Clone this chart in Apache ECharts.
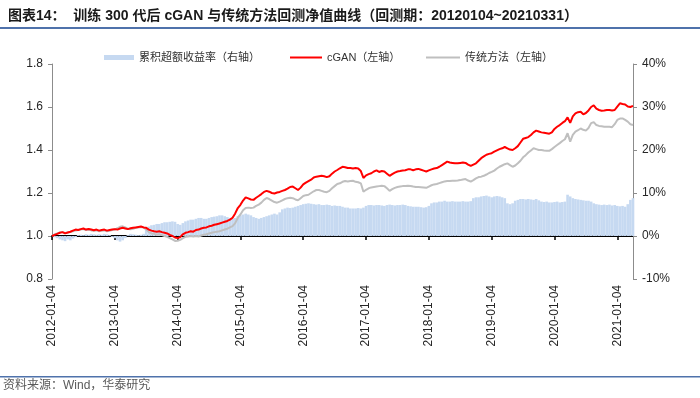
<!DOCTYPE html>
<html><head><meta charset="utf-8">
<script src="https://cdn.jsdelivr.net/npm/echarts@6/dist/echarts.min.js"></script>
<style>html,body{margin:0;padding:0;background:#fff}#c{width:700px;height:398px}</style>
</head><body><div id="c"></div>
<script>
// sample dates (twice a month), 2012-01-04 .. 2021-03-31
const years = [2012,2013,2014,2015,2016,2017,2018,2019,2020];
const monthDays = ['04','18'];
const dates = [];
for (const y of years) {
  for (let m = 1; m <= 12; m++) {
    for (const d of monthDays) dates.push(y + '-' + String(m).padStart(2,'0') + '-' + d);
  }
}
const lastDates = ['2021-01-04','2021-01-18','2021-02-04','2021-02-18','2021-03-04','2021-03-18','2021-03-31'];
dates.push(...lastDates);

const cgan = [
1.000,1.005,1.010,1.015,1.018,1.012,1.016,1.020,1.025,1.030,
1.028,1.032,1.035,1.030,1.033,1.030,1.027,1.030,1.025,1.028,
1.030,1.025,1.028,1.030,1.032,1.030,1.035,1.038,1.035,1.032,
1.036,1.038,1.040,1.042,1.044,1.040,1.038,1.030,1.025,1.022,
1.020,1.022,1.018,1.015,1.012,1.005,1.000,0.993,0.990,0.995,
1.008,1.015,1.018,1.022,1.020,1.028,1.030,1.035,1.038,1.040,
1.045,1.048,1.052,1.055,1.058,1.062,1.066,1.070,1.076,1.085,
1.105,1.130,1.145,1.165,1.180,1.175,1.170,1.168,1.178,1.186,
1.195,1.205,1.210,1.206,1.200,1.198,1.202,1.205,1.210,1.214,
1.220,1.228,1.230,1.222,1.214,1.225,1.240,1.248,1.255,1.262,
1.272,1.276,1.278,1.280,1.278,1.274,1.278,1.290,1.300,1.307,
1.315,1.322,1.320,1.316,1.316,1.314,1.316,1.314,1.302,1.270,
1.282,1.288,1.292,1.300,1.305,1.298,1.302,1.300,1.290,1.280,
1.288,1.295,1.300,1.302,1.305,1.306,1.310,1.310,1.306,1.310,
1.312,1.308,1.304,1.300,1.305,1.310,1.314,1.316,1.322,1.330,
1.338,1.346,1.342,1.340,1.338,1.338,1.340,1.342,1.340,1.332,
1.326,1.332,1.338,1.350,1.362,1.370,1.378,1.382,1.385,1.392,
1.398,1.404,1.408,1.414,1.408,1.402,1.400,1.408,1.418,1.435,
1.452,1.456,1.460,1.470,1.482,1.490,1.486,1.482,1.480,1.478,
1.476,1.482,1.498,1.508,1.516,1.526,1.534,1.552,1.526,1.556,
1.570,1.576,1.578,1.566,1.572,1.584,1.600,1.608,1.592,1.586,
1.583,1.584,1.586,1.586,1.584,1.586,1.602,1.617,1.614,1.612,
1.602,1.600,1.605
];

const trad = [
1.000,1.008,1.012,1.016,1.018,1.014,1.016,1.018,1.022,1.026,
1.028,1.030,1.032,1.028,1.030,1.026,1.024,1.026,1.022,1.024,
1.026,1.022,1.024,1.028,1.030,1.036,1.043,1.045,1.040,1.034,
1.031,1.034,1.038,1.040,1.042,1.040,1.030,1.018,1.012,1.010,
1.006,1.008,1.004,1.000,0.996,0.990,0.984,0.977,0.978,0.982,
0.990,0.996,0.998,1.000,0.998,1.000,0.998,1.002,1.006,1.008,
1.012,1.015,1.018,1.020,1.022,1.026,1.030,1.034,1.040,1.046,
1.060,1.085,1.100,1.120,1.130,1.132,1.130,1.132,1.140,1.146,
1.155,1.168,1.177,1.172,1.165,1.158,1.155,1.160,1.166,1.172,
1.176,1.178,1.176,1.170,1.166,1.176,1.186,1.190,1.192,1.200,
1.208,1.214,1.214,1.210,1.206,1.204,1.210,1.222,1.232,1.242,
1.245,1.252,1.256,1.254,1.256,1.257,1.252,1.250,1.245,1.206,
1.215,1.222,1.226,1.228,1.230,1.232,1.234,1.232,1.222,1.210,
1.218,1.224,1.228,1.230,1.232,1.233,1.234,1.233,1.230,1.228,
1.228,1.227,1.226,1.224,1.230,1.236,1.240,1.242,1.246,1.250,
1.254,1.256,1.256,1.257,1.257,1.258,1.260,1.263,1.265,1.258,
1.253,1.260,1.268,1.274,1.276,1.280,1.286,1.293,1.298,1.304,
1.314,1.322,1.328,1.334,1.338,1.330,1.322,1.328,1.338,1.350,
1.366,1.376,1.388,1.398,1.408,1.404,1.400,1.400,1.398,1.397,
1.396,1.404,1.414,1.423,1.432,1.442,1.450,1.478,1.439,1.470,
1.485,1.492,1.500,1.494,1.490,1.502,1.525,1.530,1.516,1.512,
1.510,1.508,1.508,1.508,1.506,1.520,1.540,1.546,1.547,1.540,
1.532,1.520,1.516
];

const excess = [
0.0,-0.3,-0.5,-0.8,-1.0,-1.2,-0.8,-1.0,-0.6,-0.3,
0.2,0.3,0.2,0.4,0.3,0.5,0.4,0.3,0.4,0.3,
0.5,0.4,0.2,-0.2,-0.5,-1.0,-1.3,-1.0,-0.5,0.2,
0.5,0.4,0.3,0.2,0.3,0.5,1.5,2.2,2.5,2.6,
2.8,2.8,3.0,3.2,3.2,3.3,3.4,3.3,2.8,2.6,
3.0,3.4,3.6,3.8,3.8,4.0,4.2,4.2,4.0,4.0,
4.2,4.4,4.5,4.6,4.8,4.8,4.6,4.4,4.2,4.0,
4.2,4.6,4.8,5.0,5.2,5.0,4.8,4.4,4.2,4.0,
4.2,4.4,4.6,4.8,5.0,5.2,5.0,5.5,6.2,6.4,
6.6,6.5,6.6,6.8,7.0,7.2,7.4,7.5,7.6,7.5,
7.4,7.3,7.4,7.2,7.2,7.3,7.2,7.0,7.1,7.0,
7.0,6.8,6.6,6.6,6.4,6.4,6.4,6.5,6.4,6.6,
7.0,7.2,7.2,7.1,7.2,7.2,7.1,7.0,7.2,7.3,
7.2,7.1,7.2,7.2,7.3,7.2,7.0,6.9,6.8,6.8,
6.8,6.7,6.6,6.7,7.0,7.6,7.8,7.8,8.0,8.0,
8.2,8.0,8.0,8.1,8.0,8.0,8.0,8.1,8.0,8.0,
8.1,8.8,9.0,9.0,9.2,9.3,9.4,9.2,9.0,9.2,
9.3,9.2,9.0,8.8,7.6,7.4,7.6,8.2,8.4,8.6,
8.6,8.5,8.6,8.5,8.4,8.6,8.3,8.0,7.9,8.0,
7.8,7.8,7.9,8.0,7.8,7.9,8.0,9.6,9.2,8.8,
8.6,8.5,8.4,8.3,8.2,8.2,8.0,7.6,7.4,7.3,
7.2,7.3,7.2,7.3,7.1,7.2,7.0,6.9,7.0,6.8,
7.4,8.4,8.8
];

const leftTicks = {min: 0.8, max: 1.8, interval: 0.2};
const rightTicks = {min: -10, max: 40, interval: 10};
const names = ['累积超额收益率（右轴）', 'cGAN（左轴）', '传统方法（左轴）'];
const titleText = '图表14：  训练 300 代后 cGAN 与传统方法回测净值曲线（回测期：20120104~20210331）';
const sourceText = '资料来源：Wind，华泰研究';

const FONT = "'Liberation Sans', Arial, 'Noto Sans CJK SC', sans-serif";
const isYearStart = (idx, val) => String(val).endsWith('-01-04');

const chart = echarts.init(document.getElementById('c'), null, {renderer: 'canvas'});
const legendText = {fontSize: 11, color: '#333', fontFamily: FONT};
chart.setOption({
  animation: false,
  backgroundColor: '#fff',
  title: {
    text: titleText, left: 3, top: 4,
    textStyle: {fontSize: 14, fontWeight: 'bold', color: '#1a1a1a', fontFamily: FONT}
  },
  graphic: [
    {type: 'rect', shape: {x: 0, y: 27, width: 700, height: 2}, style: {fill: '#4f72ab'}},
    {type: 'rect', shape: {x: 0, y: 376, width: 700, height: 1.5}, style: {fill: '#4f72ab'}},
    {type: 'text', left: 3, top: 380, style: {text: sourceText, fontSize: 12, fill: '#595959', fontFamily: FONT}}
  ],
  legend: [
    {data: [names[0]], left: 104, top: 52, padding: 0, icon: 'rect', itemWidth: 30, itemHeight: 5, itemGap: 6, textStyle: legendText},
    {data: [names[1]], left: 290, top: 52, padding: 0, icon: 'rect', itemWidth: 32, itemHeight: 2, textStyle: legendText},
    {data: [names[2]], left: 426, top: 52, padding: 0, icon: 'rect', itemWidth: 34, itemHeight: 2, textStyle: legendText}
  ],
  grid: {left: 52, right: 67, top: 64, bottom: 119},
  xAxis: [
    {
      type: 'category', data: dates, boundaryGap: false, position: 'bottom',
      axisLine: {show: false, onZero: false}, axisTick: {show: false},
      axisLabel: {rotate: 90, interval: isYearStart, margin: 6, fontSize: 12, color: '#262626', fontFamily: FONT}
    },
    {
      type: 'category', data: dates, boundaryGap: false, position: 'bottom',
      axisLine: {show: true, onZero: true, onZeroAxisIndex: 1, lineStyle: {color: '#000', width: 2}},
      axisTick: {show: true, interval: isYearStart, length: 4, lineStyle: {color: '#000', width: 1.5}},
      axisLabel: {show: false}
    }
  ],
  yAxis: [
    {
      type: 'value', min: leftTicks.min, max: leftTicks.max, interval: leftTicks.interval,
      axisLine: {show: true, lineStyle: {color: '#8c8c8c'}},
      axisTick: {show: true, length: 4, lineStyle: {color: '#8c8c8c'}},
      splitLine: {show: false},
      axisLabel: {formatter: v => v.toFixed(1), fontSize: 12, color: '#262626', margin: 9, fontFamily: FONT}
    },
    {
      type: 'value', min: rightTicks.min, max: rightTicks.max, interval: rightTicks.interval, position: 'right',
      axisLine: {show: true, lineStyle: {color: '#8c8c8c'}},
      axisTick: {show: true, length: 4, lineStyle: {color: '#8c8c8c'}},
      splitLine: {show: false},
      axisLabel: {formatter: v => v + '%', fontSize: 12, color: '#262626', margin: 9, fontFamily: FONT}
    }
  ],
  series: [
    {name: names[0], type: 'bar', xAxisIndex: 0, yAxisIndex: 1, data: excess,
     barCategoryGap: '0%', itemStyle: {color: '#c6d9f1'}},
    {name: names[2], type: 'line', xAxisIndex: 0, yAxisIndex: 0, data: trad, symbol: 'none',
     lineStyle: {color: '#bfbfbf', width: 2}, itemStyle: {color: '#bfbfbf'}},
    {name: names[1], type: 'line', xAxisIndex: 0, yAxisIndex: 0, data: cgan, symbol: 'none',
     lineStyle: {color: '#ff0000', width: 2}, itemStyle: {color: '#ff0000'}}
  ]
});
</script>
</body></html>
